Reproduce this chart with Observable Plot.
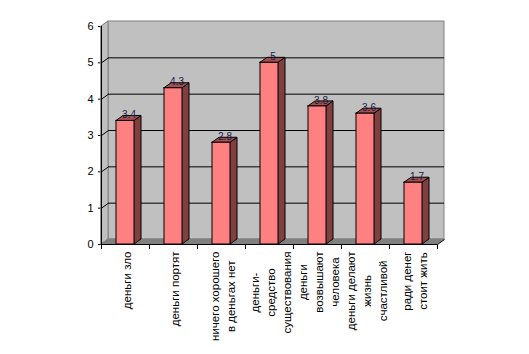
<!DOCTYPE html>
<html><head><meta charset="utf-8">
<script src="https://cdn.jsdelivr.net/npm/d3@7"></script>
<script src="https://cdn.jsdelivr.net/npm/@observablehq/plot@0.6"></script>
<style>
html,body{margin:0;padding:0;background:#fff;}
#chart svg{display:block;}
</style>
</head><body><div id="chart"></div>
<script>
const categories = ["деньги зло", "деньги портят", "ничего хорошего\nв деньгах нет", "деньги-\nсредство\nсуществования", "деньги\nвозвышают\nчеловека", "деньги делают\nжизнь\nсчастливой", "ради денег\nстоит жить"];
const values = [3.4, 4.3, 2.8, 5, 3.8, 3.6, 1.7];
const valueLabels = ["3.4", "4.3", "2.8", "5", "3.8", "3.6", "1.7"];
const yTicks = [0, 1, 2, 3, 4, 5, 6];
const gridValues = [1, 2, 3, 4, 5];

const W = 529, H = 354, ML = 101, MR = 92, MT = 26, MB = 110;
const N = categories.length, YMAX = 6;
const DEPTH_X = 7, DEPTH_Y = 5, BAR_PX = 18;
const ux = (W - ML - MR) / N, uy = (H - MT - MB) / YMAX;
const ddx = DEPTH_X / ux, ddy = DEPTH_Y / uy, bw = BAR_PX / ux;

const bars = categories.map((c, i) => ({i, c, v: values[i], label: valueLabels[i], x1: i + 0.5 - bw / 2, x2: i + 0.5 + bw / 2}));
const sides = bars.flatMap(b => [
  {i: b.i, x: b.x2, y1: 0, y2: b.v},
  {i: b.i, x: b.x2 + ddx, y1: ddy, y2: b.v + ddy}
]);
const tops = bars.flatMap(b => [
  {i: b.i, x: b.x1, y1: b.v, y2: b.v},
  {i: b.i, x: b.x1 + ddx, y1: b.v, y2: b.v + ddy},
  {i: b.i, x: b.x2, y1: b.v, y2: b.v + ddy},
  {i: b.i, x: b.x2 + ddx, y1: b.v + ddy, y2: b.v + ddy}
]);
const leftWall = [{x: 0, y1: 0, y2: YMAX}, {x: ddx, y1: ddy, y2: YMAX + ddy}];
const floor = [{x: 0, y1: 0, y2: 0}, {x: ddx, y1: 0, y2: ddy}, {x: N, y1: 0, y2: ddy}, {x: N + ddx, y1: ddy, y2: ddy}];

const FONT = "Liberation Sans, Arial, sans-serif";
const CAT_FS = 11.5;
const ctx = document.createElement("canvas").getContext("2d");
ctx.font = CAT_FS + "px 'Liberation Sans'";
const maxW = c => Math.max(...c.split("\n").map(s => ctx.measureText(s).width));

const catMarks = categories.map((c, i) => Plot.text([c], {
  x: i + 0.5, frameAnchor: "bottom", text: d => d, rotate: -90,
  textAnchor: "middle", lineAnchor: "middle", lineHeight: 16 / CAT_FS,
  dy: 7 + maxW(c) / 2, fontSize: CAT_FS, fill: "#000"
}));

const chart = Plot.plot({
  width: W, height: H,
  marginLeft: ML, marginRight: MR, marginTop: MT, marginBottom: MB,
  style: {fontFamily: FONT, fontSize: "11px", background: "#fff", color: "#000"},
  x: {domain: [0, N], ticks: d3.range(N + 1), tickFormat: () => "", tickSize: 5, label: null},
  y: {domain: [0, YMAX], ticks: yTicks, tickFormat: d => String(d), tickSize: 3, tickPadding: 5, label: null},
  marks: [
    Plot.rect([0], {x1: ddx, x2: N + ddx, y1: ddy, y2: YMAX + ddy, fill: "#c0c0c0", stroke: "#808080"}),
    Plot.areaY(leftWall, {x: "x", y1: "y1", y2: "y2", fill: "#c0c0c0", stroke: "#808080", curve: "linear"}),
    Plot.areaY(floor, {x: "x", y1: "y1", y2: "y2", fill: "#808080", stroke: "#808080", curve: "linear"}),
    Plot.ruleY(gridValues, {y: d => d + ddy, x1: ddx, x2: N + ddx, stroke: "#000"}),
    Plot.link(gridValues, {x1: 0, y1: d => d, x2: ddx, y2: d => d + ddy, stroke: "#000"}),
    Plot.link([0], {x1: N, y1: 0, x2: N + ddx, y2: ddy, stroke: "#000"}),
    Plot.areaY(sides, {x: "x", y1: "y1", y2: "y2", z: "i", fill: "#804040", stroke: "#000", curve: "linear"}),
    Plot.areaY(tops, {x: "x", y1: "y1", y2: "y2", z: "i", fill: "#a05050", stroke: "#000", curve: "linear"}),
    Plot.rect(bars, {x1: "x1", x2: "x2", y1: 0, y2: "v", fill: "#ff8080", stroke: "#000"}),
    Plot.ruleX([0], {y1: 0, y2: YMAX, stroke: "#000"}),
    Plot.ruleY([0], {x1: 0, x2: N, stroke: "#000"}),
    Plot.text(bars, {x: d => d.x1 + bw / 2 + ddx / 2, y: d => d.v + ddy, dy: -1, text: "label", fontSize: 10, fill: "#1a1a40"}),
    ...catMarks
  ]
});
document.getElementById("chart").appendChild(chart);
</script>
</body></html>
